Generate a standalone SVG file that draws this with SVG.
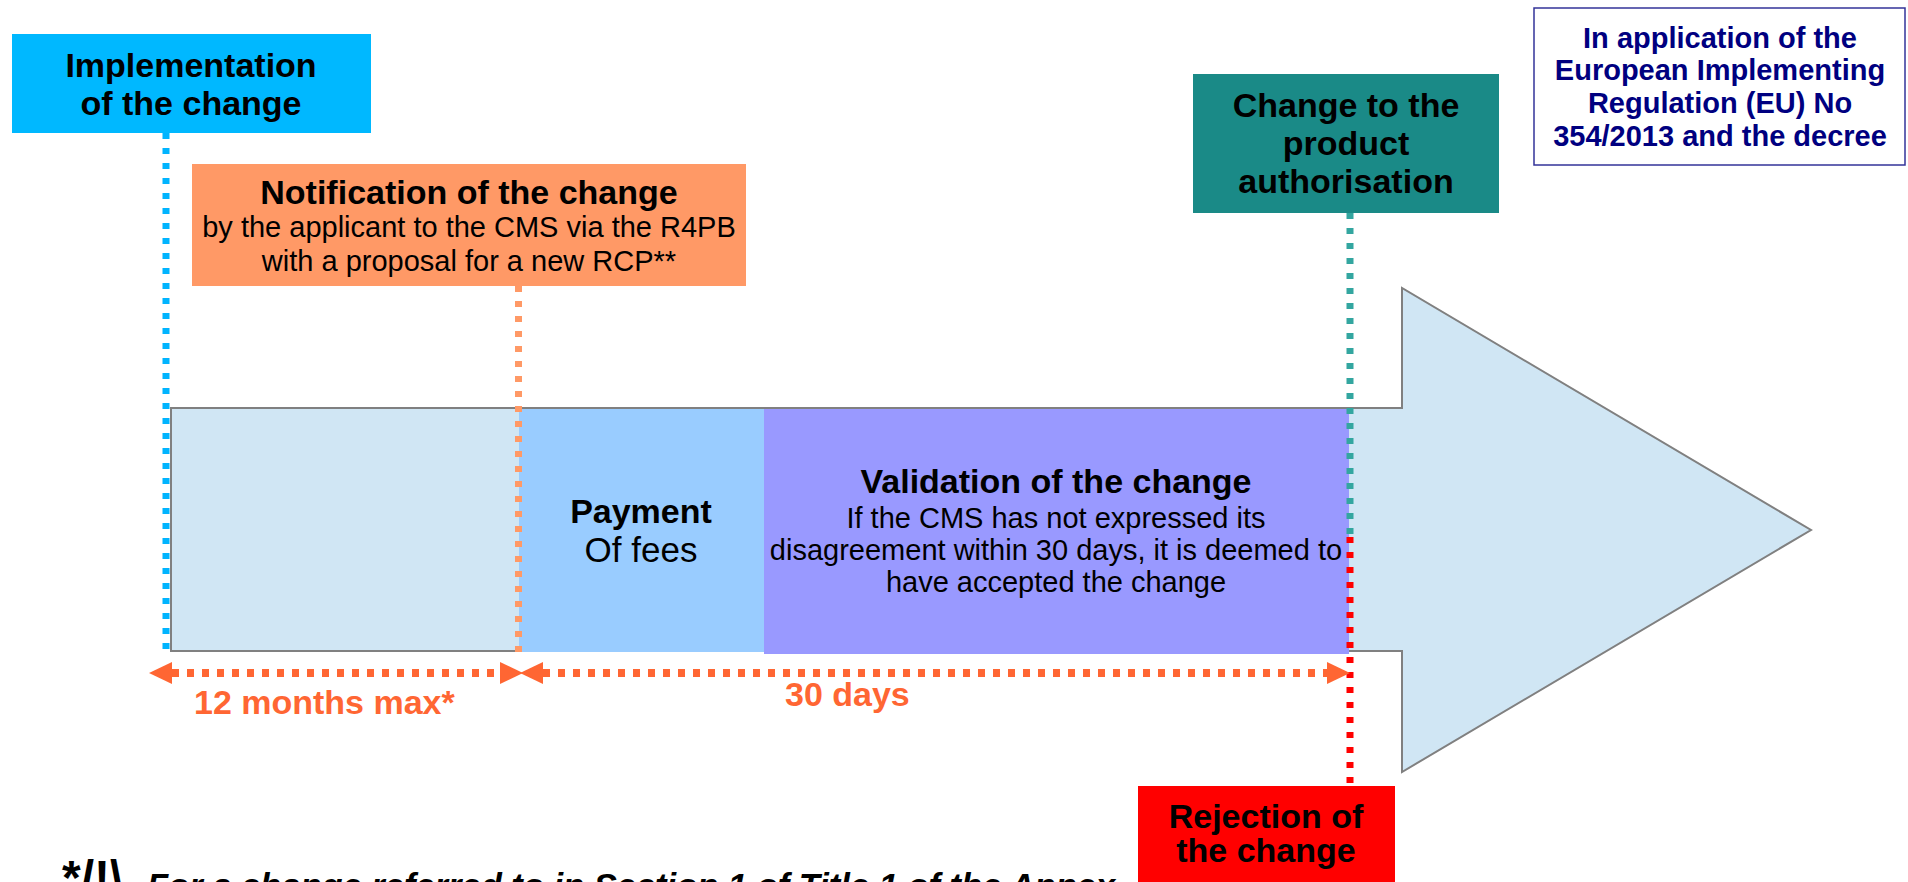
<svg xmlns="http://www.w3.org/2000/svg" width="1908" height="882" viewBox="0 0 1908 882">
<style>
text { font-family: "Liberation Sans", Arial, Helvetica, sans-serif; text-anchor: middle; fill: #000; }
.b { font-weight: bold; font-size: 34px; }
.r { font-size: 29px; }
.nav { font-weight: bold; font-size: 29px; fill: #000080; }
.dim { font-weight: bold; font-size: 34px; fill: #FF6633; text-anchor: start; }
.vdot { fill: none; stroke-width: 7; stroke-dasharray: 6 9; }
.hdim { fill: none; stroke: #FF6633; stroke-width: 8; stroke-dasharray: 7 8; }
</style>
<defs>
<marker id="ah" markerUnits="userSpaceOnUse" viewBox="0 0 23 22" refX="0" refY="11" markerWidth="23" markerHeight="22" orient="auto-start-reverse">
<path d="M0,0 L23,11 L0,22 Z" fill="#FF6633"/>
</marker>
</defs>
<rect width="1908" height="882" fill="#FFFFFF"/>

<g id="timeline-arrow">
<polygon points="171,408 1402,408 1402,288 1811,530 1402,772 1402,651 171,651" fill="#D0E6F4" stroke="#808080" stroke-width="2"/>
</g>

<g id="payment">
<rect x="519" y="409" width="245" height="243" fill="#99CCFF"/>
<text class="b" x="641" y="523">Payment</text>
<text x="641" y="562" style="font-size:35px">Of fees</text>
</g>

<g id="validation">
<rect x="764" y="409" width="585" height="245" fill="#9999FF"/>
<text class="b" x="1056" y="493">Validation of the change</text>
<text class="r" x="1056" y="528">If the CMS has not expressed its</text>
<text class="r" x="1056" y="560">disagreement within 30 days, it is deemed to</text>
<text class="r" x="1056" y="592">have accepted the change</text>
</g>

<g id="connectors">
<line class="vdot" x1="166" y1="133" x2="166" y2="650" stroke="#00B4FF"/>
<line class="vdot" x1="518.5" y1="286" x2="518.5" y2="653" stroke="#FF9966"/>
<line class="vdot" x1="1350" y1="213" x2="1350" y2="535" stroke="#33A6A0"/>
<line class="vdot" x1="1350" y1="537" x2="1350" y2="786" stroke="#FF0000"/>
<path class="hdim" d="M172,673 H500" marker-start="url(#ah)" marker-end="url(#ah)"/>
<path class="hdim" d="M543,673 H1327" marker-start="url(#ah)" marker-end="url(#ah)"/>
</g>

<g id="label-12-months">
<text class="dim" x="194" y="714">12 months max*</text>
</g>
<g id="label-30-days">
<text class="dim" x="785" y="706">30 days</text>
</g>

<g id="implementation">
<rect x="12" y="34" width="359" height="99" fill="#00B8FF"/>
<text class="b" x="191" y="77">Implementation</text>
<text class="b" x="191" y="115">of the change</text>
</g>

<g id="notification">
<rect x="192" y="164" width="554" height="122" fill="#FF9966"/>
<text class="b" x="469" y="204">Notification of the change</text>
<text class="r" x="469" y="237">by the applicant to the CMS via the R4PB</text>
<text class="r" x="469" y="271">with a proposal for a new RCP**</text>
</g>

<g id="product-authorisation">
<rect x="1193" y="74" width="306" height="139" fill="#1A8A87"/>
<text class="b" x="1346" y="117">Change to the</text>
<text class="b" x="1346" y="155">product</text>
<text class="b" x="1346" y="193">authorisation</text>
</g>

<g id="regulation">
<rect x="1534" y="8" width="371" height="157" fill="#FFFFFF" stroke="#333399" stroke-width="1.5"/>
<text class="nav" x="1720" y="48">In application of the</text>
<text class="nav" x="1720" y="80">European Implementing</text>
<text class="nav" x="1720" y="113">Regulation (EU) No</text>
<text class="nav" x="1720" y="146">354/2013 and the decree</text>
</g>

<g id="rejection">
<rect x="1138" y="786" width="257" height="110" fill="#FF0000"/>
<text class="b" x="1266" y="828">Rejection of</text>
<text class="b" x="1266" y="862">the change</text>
</g>

<g id="footnote">
<text x="62" y="894" style="font-weight:bold;font-size:48px;text-anchor:start">*/!\</text>
<text x="147" y="898" style="font-weight:bold;font-style:italic;font-size:34.5px;text-anchor:start">For a change referred to in Section 1 of Title 1 of the Annex</text>
</g>
</svg>
